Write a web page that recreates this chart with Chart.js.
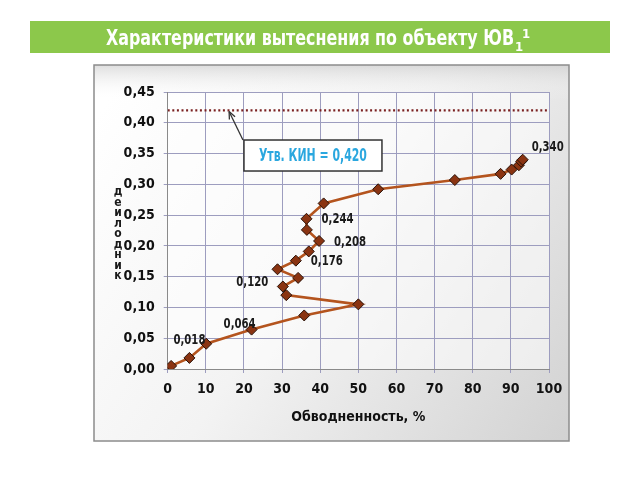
<!DOCTYPE html>
<html><head><meta charset="utf-8">
<script src="https://cdn.jsdelivr.net/npm/chart.js@4/dist/chart.umd.min.js"></script>
<style>html,body{margin:0;padding:0;background:#fff;}#wrap{width:640px;height:480px;position:relative;}</style>
</head><body><div id="wrap"><canvas id="c" width="640" height="480"></canvas></div>
<script>
// ---- data ----
const waterCut = [0, 0.9, 5.7, 10.1, 22.0, 35.8, 50.0, 31.1, 30.2, 34.2, 28.8, 33.6, 37.0, 39.7, 36.5, 36.4, 40.9, 55.2, 75.3, 87.3, 90.2, 92.1, 92.7, 93.1];
const oilRecovery = [0, 0.005, 0.018, 0.041, 0.064, 0.087, 0.105, 0.120, 0.134, 0.148, 0.162, 0.176, 0.191, 0.208, 0.226, 0.244, 0.269, 0.292, 0.307, 0.317, 0.324, 0.331, 0.337, 0.340];
const labeledPoints = [2, 4, 7, 11, 13, 15, 23];
const approvedKIN = 0.420;
const xTicks = [0, 10, 20, 30, 40, 50, 60, 70, 80, 90, 100];
const yTicks = [0, 0.05, 0.10, 0.15, 0.20, 0.25, 0.30, 0.35, 0.40, 0.45];
const titleText = 'Характеристики вытеснения по объекту ЮВ';
const xTitle = 'Обводненность, %';
const yTitleLetters = ['д','е','и','л','о','д','н','и','к'];
const kinBoxText = 'Утв. КИН = 0,420';

const FF = "'Liberation Sans Narrow','DejaVu Sans Condensed','Roboto Condensed',sans-serif";
const fmt = v => v.toFixed(3).replace('.', ',');

// label placement (pixel offsets, styling only)
const labelStyle = {
  2:  {dx: 0,   dy: -18, align: 'center'},
  4:  {dx: -12, dy: -5,  align: 'center'},
  7:  {dx: -18, dy: -13, align: 'right'},
  11: {dx: 15,  dy: 1,   align: 'left'},
  13: {dx: 15,  dy: 1,   align: 'left'},
  15: {dx: 15,  dy: 1,   align: 'left'},
  23: {dx: 9,   dy: -12, align: 'left'}
};

function drawCondensed(ctx, text, x, y, targetW, align) {
  const w = ctx.measureText(text).width;
  const s = targetW ? targetW / w : 1;
  ctx.save();
  ctx.translate(x, y);
  ctx.scale(s, 1);
  ctx.textAlign = align || 'left';
  ctx.fillText(text, 0, 0);
  ctx.restore();
  return w * s;
}

const decor = {
  id: 'decor',
  beforeDraw(chart) {
    const ctx = chart.ctx;
    ctx.save();
    ctx.fillStyle = '#fff';
    ctx.fillRect(0, 0, 640, 480);
    // banner
    ctx.fillStyle = '#8cc84b';
    ctx.fillRect(30, 21, 580, 32);
    ctx.fillStyle = '#fff';
    ctx.font = 'bold 21px ' + FF;
    ctx.textBaseline = 'alphabetic';
    const mainW = 408;
    drawCondensed(ctx, titleText, 106, 45, mainW, 'left');
    ctx.font = 'bold 13px ' + FF;
    ctx.fillText('1', 106 + mainW + 1, 51);
    ctx.fillText('1', 106 + mainW + 8, 38);
    // frame
    const g = ctx.createLinearGradient(94, 120, 569, 441);
    g.addColorStop(0, '#ffffff');
    g.addColorStop(0.45, '#f3f3f3');
    g.addColorStop(1, '#d2d2d2');
    ctx.fillStyle = g;
    ctx.fillRect(94, 65, 475, 376);
    const g2 = ctx.createLinearGradient(0, 65, 0, 100);
    g2.addColorStop(0, 'rgba(200,200,200,0.6)');
    g2.addColorStop(1, 'rgba(255,255,255,0)');
    ctx.fillStyle = g2;
    ctx.fillRect(94, 65, 475, 35);
    ctx.strokeStyle = '#8c8c8c';
    ctx.lineWidth = 1.5;
    ctx.strokeRect(94, 65, 475, 376);
    // plot bg
    const a = chart.chartArea;
    ctx.fillStyle = 'rgba(255,255,255,0.55)';
    ctx.fillRect(a.left, a.top, a.right - a.left, a.bottom - a.top);
    ctx.restore();
  },
  afterDraw(chart) {
    const ctx = chart.ctx;
    const xs = chart.scales.x, ys = chart.scales.y;
    ctx.save();
    // point value labels
    ctx.fillStyle = '#1a1a1a';
    ctx.font = 'bold 14px ' + FF;
    ctx.textBaseline = 'middle';
    labeledPoints.forEach(i => {
      const st = labelStyle[i];
      const px = xs.getPixelForValue(waterCut[i]);
      const py = ys.getPixelForValue(oilRecovery[i]);
      drawCondensed(ctx, fmt(oilRecovery[i]), px + st.dx, py + st.dy, 32, st.align);
    });
    // y title stacked letters
    ctx.font = 'bold 12px ' + FF;
    ctx.textAlign = 'center';
    let ly = 192;
    yTitleLetters.forEach(ch => { ctx.fillText(ch, 118, ly); ly += 10.5; });
    // KIN box
    const bx = xs.getPixelForValue(20), by = ys.getPixelForValue(0.372);
    const bw = 138, bh = 31;
    ctx.fillStyle = '#fff';
    ctx.fillRect(bx, by, bw, bh);
    ctx.strokeStyle = '#333';
    ctx.lineWidth = 1.5;
    ctx.strokeRect(bx, by, bw, bh);
    ctx.fillStyle = '#2aa7df';
    ctx.font = 'bold 17px ' + FF;
    drawCondensed(ctx, kinBoxText, bx + bw / 2, by + bh / 2 + 1, 108, 'center');
    // arrow
    const tx = xs.getPixelForValue(16.1), ty = ys.getPixelForValue(approvedKIN);
    const sx = bx - 1, sy = by;
    ctx.strokeStyle = '#333';
    ctx.lineWidth = 1.3;
    ctx.beginPath(); ctx.moveTo(sx, sy); ctx.lineTo(tx, ty + 1); ctx.stroke();
    const ang = Math.atan2(ty - sy, tx - sx);
    ctx.beginPath();
    ctx.moveTo(tx, ty + 1);
    ctx.lineTo(tx - 8 * Math.cos(ang - 0.4), ty + 1 - 8 * Math.sin(ang - 0.4));
    ctx.moveTo(tx, ty + 1);
    ctx.lineTo(tx - 8 * Math.cos(ang + 0.4), ty + 1 - 8 * Math.sin(ang + 0.4));
    ctx.stroke();
    ctx.restore();
  }
};

new Chart(document.getElementById('c'), {
  type: 'scatter',
  data: {
    datasets: [
      {
        data: [{x: xTicks[0], y: approvedKIN}, {x: xTicks[xTicks.length - 1], y: approvedKIN}],
        showLine: true, borderColor: '#7a2020', borderWidth: 2.2, borderDash: [2, 2.6],
        pointRadius: 0, order: 2
      },
      {
        data: waterCut.map((x, i) => ({x, y: oilRecovery[i]})),
        showLine: true, borderColor: '#b4541e', borderWidth: 2.6,
        pointStyle: 'rectRot', pointRadius: 5.5, pointBackgroundColor: '#8a3412',
        pointBorderColor: '#2a1208', pointBorderWidth: 1, order: 1
      }
    ]
  },
  options: {
    responsive: false, animation: false,
    layout: {padding: {left: 100, right: 91, top: 92, bottom: 50}},
    plugins: {legend: {display: false}, tooltip: {enabled: false}, title: {display: false}},
    scales: {
      x: {
        type: 'linear', min: 0, max: 100,
        afterBuildTicks: s => { s.ticks = xTicks.map(v => ({value: v})); },
        afterFit: s => { s.height = 61; },
        grid: {color: '#9d9dbf', lineWidth: 1, tickLength: 4, drawTicks: true},
        border: {color: '#8a8a8a'},
        ticks: {color: '#111', padding: 8, font: {family: FF, size: 14, weight: 'bold'}, maxRotation: 0,
                callback: v => String(v)},
        title: {display: true, text: xTitle, color: '#111', padding: {top: 4}, font: {family: FF, size: 14, weight: 'bold'}}
      },
      y: {
        type: 'linear', min: 0, max: 0.45,
        afterBuildTicks: s => { s.ticks = yTicks.map(v => ({value: v})); },
        afterFit: s => { s.width = 67.7; },
        grid: {color: '#9d9dbf', lineWidth: 1, tickLength: 4},
        border: {color: '#8a8a8a'},
        ticks: {color: '#111', padding: 9, font: {family: FF, size: 14, weight: 'bold'},
                callback: v => v.toFixed(2).replace('.', ',')}
      }
    }
  },
  plugins: [decor]
});
</script>
</body></html>
